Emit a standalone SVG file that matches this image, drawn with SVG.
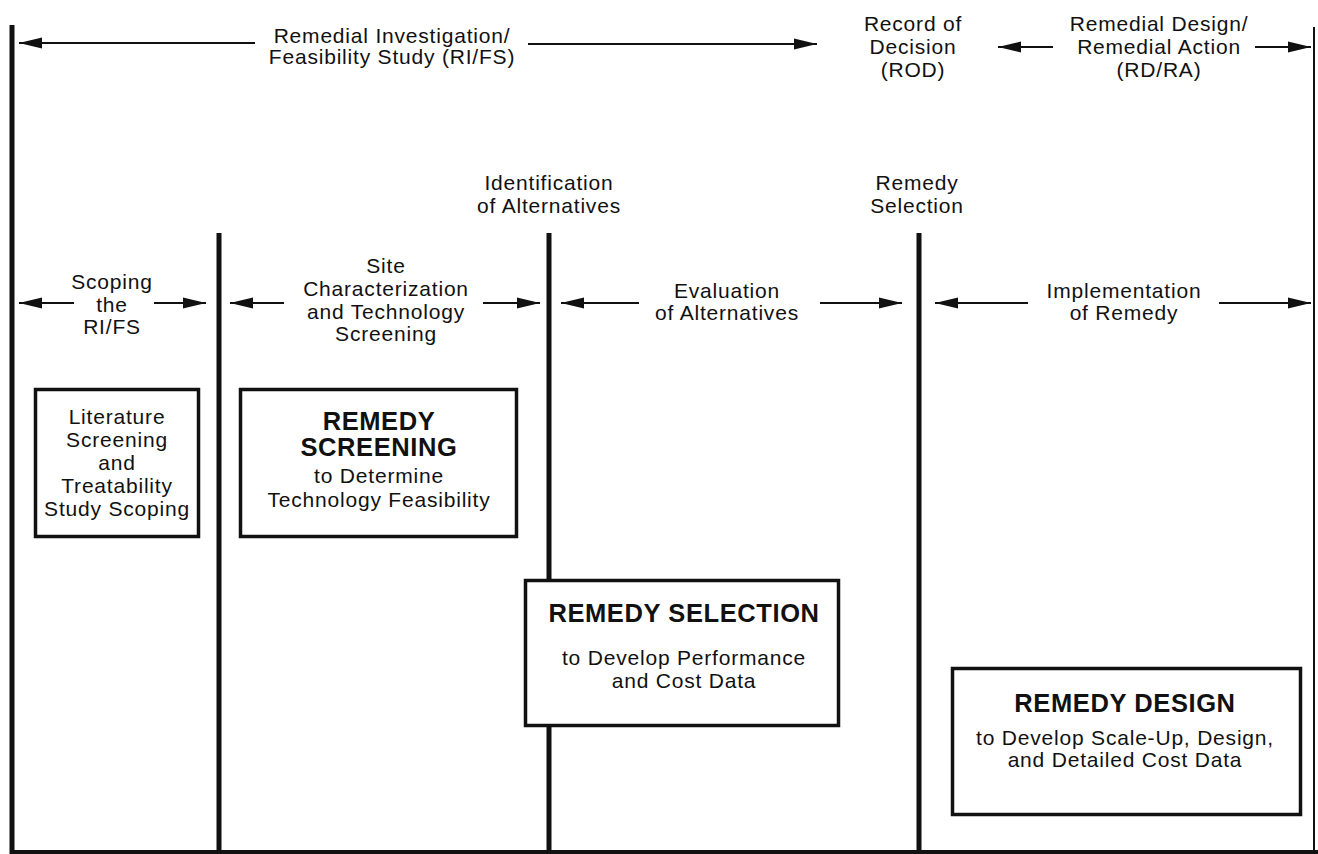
<svg xmlns="http://www.w3.org/2000/svg" width="1318" height="854" viewBox="0 0 1318 854">
<style>
text{font-family:"Liberation Sans",Arial,Helvetica,sans-serif;font-size:21px;letter-spacing:0.8px;fill:#111;text-anchor:middle}
.b{font-weight:bold;font-size:25.5px;letter-spacing:0.6px}
.phase{stroke:#111;stroke-width:5;fill:none}
.arr{stroke:#111;stroke-width:2;fill:none;marker-end:url(#ah)}
.box{fill:#fff;stroke:#111;stroke-width:3.5}
</style>
<defs>
<marker id="ah" markerUnits="userSpaceOnUse" markerWidth="24" markerHeight="12" refX="23" refY="6" orient="auto">
<path d="M0,0.5 L23,6 L0,11.5 Z" fill="#111"/>
</marker>
</defs>
<rect width="1318" height="854" fill="#fff"/>
<g id="frame">
<line class="phase" x1="12" y1="25" x2="12" y2="854"/>
<line class="phase" x1="219" y1="233" x2="219" y2="854"/>
<line class="phase" x1="549" y1="233" x2="549" y2="854"/>
<line class="phase" x1="919" y1="233" x2="919" y2="854"/>
<line stroke="#111" stroke-width="2" x1="1314" y1="27" x2="1314" y2="854"/>
<line stroke="#111" stroke-width="4" x1="10" y1="852" x2="1318" y2="852"/>
</g>
<g id="connectors">
<line class="arr" x1="255" y1="43" x2="19" y2="43"/>
<line class="arr" x1="528" y1="44" x2="817" y2="44"/>
<line class="arr" x1="1053" y1="47" x2="998" y2="47"/>
<line class="arr" x1="1255" y1="47" x2="1311" y2="47"/>
<line class="arr" x1="74" y1="303" x2="19" y2="303"/>
<line class="arr" x1="154" y1="303" x2="206" y2="303"/>
<line class="arr" x1="284" y1="303" x2="230" y2="303"/>
<line class="arr" x1="483" y1="303" x2="540" y2="303"/>
<line class="arr" x1="639" y1="303" x2="561" y2="303"/>
<line class="arr" x1="820" y1="303" x2="902" y2="303"/>
<line class="arr" x1="1028" y1="303" x2="935" y2="303"/>
<line class="arr" x1="1219" y1="303" x2="1311" y2="303"/>
</g>
<g id="label-rifs"><text x="392" y="43">Remedial Investigation/</text><text x="392" y="64">Feasibility Study (RI/FS)</text></g>
<g id="label-rod"><text x="913" y="31">Record of</text><text x="913" y="54">Decision</text><text x="913" y="77">(ROD)</text></g>
<g id="label-rdra"><text x="1159" y="31">Remedial Design/</text><text x="1159" y="54">Remedial Action</text><text x="1159" y="77">(RD/RA)</text></g>
<g id="label-ident"><text x="549" y="190">Identification</text><text x="549" y="213">of Alternatives</text></g>
<g id="label-remsel"><text x="917" y="190">Remedy</text><text x="917" y="213">Selection</text></g>
<g id="label-scoping"><text x="112" y="289">Scoping</text><text x="112" y="312">the</text><text x="112" y="334">RI/FS</text></g>
<g id="label-site"><text x="386" y="273">Site</text><text x="386" y="296">Characterization</text><text x="386" y="319">and Technology</text><text x="386" y="341">Screening</text></g>
<g id="label-eval"><text x="727" y="298">Evaluation</text><text x="727" y="320">of Alternatives</text></g>
<g id="label-impl"><text x="1124" y="298">Implementation</text><text x="1124" y="320">of Remedy</text></g>
<g id="box-literature">
<rect class="box" x="35.5" y="389.5" width="163" height="147"/>
<text x="117" y="424">Literature</text><text x="117" y="447">Screening</text><text x="117" y="470">and</text><text x="117" y="493">Treatability</text><text x="117" y="516">Study Scoping</text>
</g>
<g id="box-screening">
<rect class="box" x="240.5" y="389.5" width="276" height="147"/>
<text class="b" x="379" y="430">REMEDY</text><text class="b" x="379" y="456">SCREENING</text>
<text x="379" y="483">to Determine</text><text x="379" y="507">Technology Feasibility</text>
</g>
<g id="box-selection">
<rect class="box" x="525.5" y="580.5" width="313" height="145"/>
<text class="b" x="684" y="622">REMEDY SELECTION</text>
<text x="684" y="665">to Develop Performance</text><text x="684" y="688">and Cost Data</text>
</g>
<g id="box-design">
<rect class="box" x="952.5" y="668.5" width="348" height="146"/>
<text class="b" x="1125" y="712">REMEDY DESIGN</text>
<text x="1125" y="745">to Develop Scale-Up, Design,</text><text x="1125" y="767">and Detailed Cost Data</text>
</g>
</svg>
